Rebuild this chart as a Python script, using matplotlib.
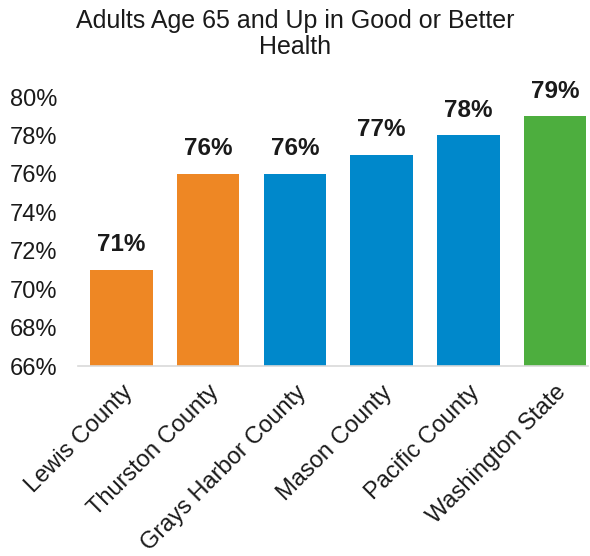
import matplotlib.pyplot as plt
from matplotlib.ticker import FuncFormatter

plt.rcParams['font.family'] = ['Liberation Sans', 'DejaVu Sans']

# Chart data
categories = ['Lewis County', 'Thurston County', 'Grays Harbor County',
              'Mason County', 'Pacific County', 'Washington State']
values = [71, 76, 76, 77, 78, 79]
colors = ['#EE8724', '#EE8724', '#0088CB', '#0088CB', '#0088CB', '#4DAE3E']

fig = plt.figure(figsize=(5.9, 5.56), dpi=100)
ax = fig.add_axes([78 / 590, 1 - 366 / 556, (588 - 78) / 590, (366 - 97) / 556])

x = range(len(categories))
bars = ax.bar(x, values, width=0.72, color=colors, bottom=0)

for xi, v in zip(x, values):
    ax.text(xi, v + 0.7, f'{v}%', ha='center', va='bottom',
            fontsize=17.5, fontweight='bold', color='#1a1a1a')

ax.set_ylim(66, 80)
ax.set_xlim(-0.5, 5.38)
ax.set_yticks(range(66, 81, 2))
ax.yaxis.set_major_formatter(FuncFormatter(lambda v, p: f'{int(v)}%'))
ax.set_xticks(list(x))
ax.set_xticklabels(categories, rotation=45, ha='right', rotation_mode='anchor')
ax.tick_params(axis='both', length=0, labelsize=17, colors='#1a1a1a')
ax.tick_params(axis='x', pad=11)
ax.tick_params(axis='y', pad=15)

for s in ['top', 'right', 'left']:
    ax.spines[s].set_visible(False)
ax.spines['bottom'].set_color('#D9D9D9')
ax.spines['bottom'].set_linewidth(1.2)

fig.text(0.5, 1 - 34 / 556, 'Adults Age 65 and Up in Good or Better\nHealth',
         ha='center', va='center', fontsize=18, color='#1a1a1a', linespacing=1.1)

fig.savefig('out.png', dpi=100)
